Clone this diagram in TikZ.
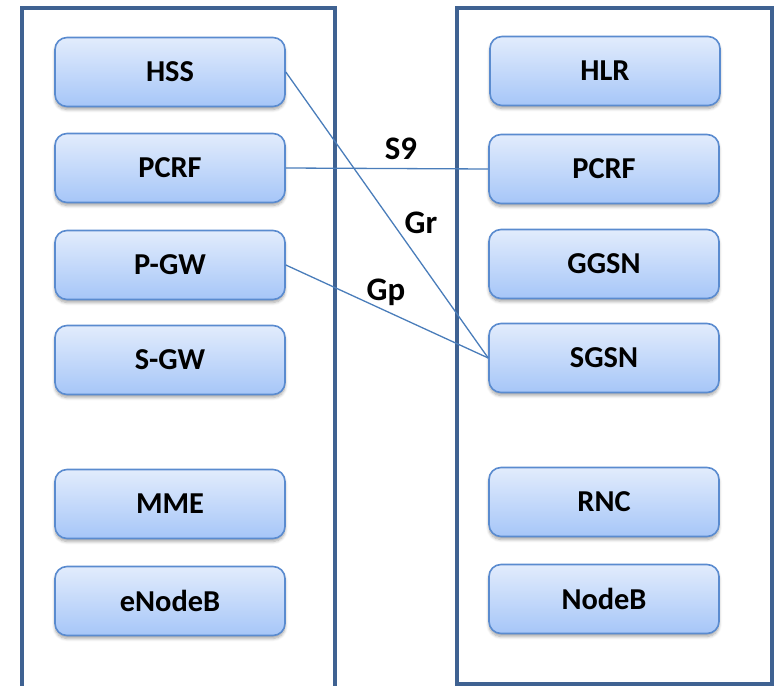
\documentclass[tikz,border=0pt]{standalone}
\usepackage{fontspec}
\setmainfont{Carlito}
\usetikzlibrary{shadows.blur}
\definecolor{framecol}{HTML}{3F6292}
\definecolor{boxtop}{HTML}{E2ECFC}
\definecolor{boxbot}{HTML}{A6C6F8}
\definecolor{boxedge}{HTML}{5A8BCF}
\definecolor{linkcol}{HTML}{4A7DBA}
\tikzset{
  netbox/.style={draw=boxedge, line width=1.6bp, rounded corners=12bp,
    top color=boxtop, bottom color=boxbot,
    minimum width=230bp, minimum height=69bp, inner sep=0pt,
    font=\fontsize{30.5}{34}\selectfont\bfseries,
    blur shadow={shadow xshift=0bp, shadow yshift=-3bp, shadow blur steps=6,
      shadow blur radius=3bp, shadow opacity=35}},
  frame/.style={draw=framecol, line width=4bp},
  link/.style={draw=linkcol, line width=1.3bp},
  iflabel/.style={font=\fontsize{33}{38}\selectfont\bfseries, anchor=base, inner sep=0pt}
}
\begin{document}
\begin{tikzpicture}[x=1bp, y=-1bp]
  \useasboundingbox (0,0) rectangle (781,686);
  % network frames
  \draw[frame] (22,690) -- (22,8) -- (335,8) -- (335,690);
  \draw[frame] (457,8) rectangle (772,684);
  % left side elements
  \node[netbox] (hss)   at (170,72)  {HSS};
  \node[netbox] (lpcrf) at (170,168) {PCRF};
  \node[netbox] (pgw)   at (170,265) {P-GW};
  \node[netbox] (sgw)   at (170,360) {S-GW};
  \node[netbox] (mme)   at (170,504) {MME};
  \node[netbox] (enb)   at (170,601) {eNodeB};
  % right side elements
  \node[netbox] (hlr)   at (605,71)  {HLR};
  \node[netbox] (rpcrf) at (604,169) {PCRF};
  \node[netbox] (ggsn)  at (604,264) {GGSN};
  \node[netbox] (sgsn)  at (604,358) {SGSN};
  \node[netbox] (rnc)   at (604,502) {RNC};
  \node[netbox] (nodeb) at (604,599) {NodeB};
  % interfaces
  \draw[link] (hss.east) -- (sgsn.west);
  \draw[link] (lpcrf.east) -- (rpcrf.west);
  \draw[link] (pgw.east) -- (sgsn.west);
  \node[iflabel] (s9) at (401,159) {S9};
  \node[iflabel] (gr) at (421,233) {Gr};
  \node[iflabel] (gp) at (386,300) {Gp};
\end{tikzpicture}
\end{document}
